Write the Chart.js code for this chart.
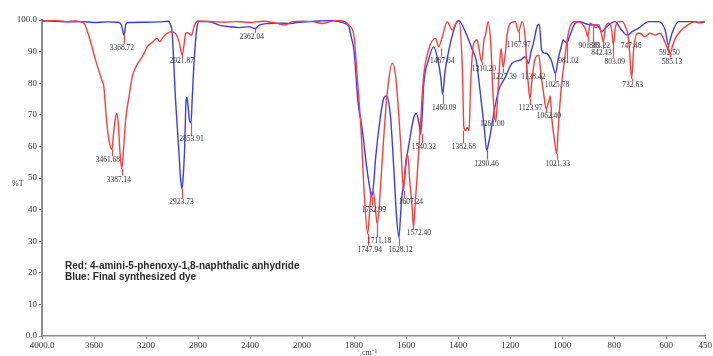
<!DOCTYPE html>
<html>
<head>
<meta charset="utf-8">
<script src="https://cdn.jsdelivr.net/npm/chart.js@4.4.1/dist/chart.umd.min.js"></script>
<style>
  html, body { margin: 0; padding: 0; background: #fff; }
  canvas { display: block; }
</style>
</head>
<body>
<canvas id="chart" width="713" height="356"></canvas>
<script>
// Wavenumbers (cm-1) and %T
const redWn = [4000, 3900, 3800, 3750, 3700, 3677, 3640, 3588, 3540, 3524, 3506, 3485, 3462, 3450, 3435, 3426, 3415, 3400, 3387, 3375, 3357, 3330, 3306, 3280, 3255, 3220, 3191, 3150, 3114, 3096, 3070, 3038, 3001, 2970, 2945, 2922, 2905, 2896, 2880, 2865, 2850, 2830, 2800, 2700, 2600, 2500, 2400, 2300, 2200, 2129, 2080, 2000, 1960, 1922, 1890, 1860, 1836, 1820, 1800, 1788, 1774, 1761, 1748, 1740, 1736, 1727, 1720, 1711, 1700, 1692, 1673, 1653, 1640, 1621, 1610, 1603, 1595, 1585, 1576, 1572, 1565, 1558, 1544, 1533, 1514, 1487, 1475, 1460, 1442, 1423, 1404, 1397, 1384, 1378, 1372, 1365, 1358, 1352, 1340, 1327, 1320, 1310, 1300, 1295, 1285, 1275, 1265, 1256, 1245, 1235, 1227, 1218, 1212, 1200, 1180, 1168, 1154, 1141, 1138, 1132, 1124, 1117, 1104, 1090, 1081, 1070, 1062, 1052, 1046, 1040, 1030, 1021, 1015, 1002, 990, 983, 970, 951, 932, 919, 910, 901, 893, 883, 870, 860, 850, 842, 833, 820, 810, 803, 796, 783, 768, 755, 747, 740, 733, 725, 710, 701, 682, 663, 643, 624, 605, 595, 585, 575, 565, 545, 526, 505, 488, 475, 464, 450];
const redT = [99.6, 99.8, 99.5, 99.7, 99.4, 99.0, 95, 87.3, 81, 78.8, 69.3, 62, 59, 64, 69, 70.4, 68, 58, 53, 58, 68.3, 76, 82, 85, 86.8, 89, 91.5, 93, 94.2, 93.1, 94.5, 95.8, 96.3, 95.5, 93, 88.9, 93, 95.8, 96, 95.5, 95.2, 98, 99.7, 99.5, 99.3, 99.5, 99.2, 99.6, 99.0, 98.4, 99.4, 99.6, 99.5, 98.9, 99.6, 99.8, 99.5, 98.4, 94.7, 82, 66.1, 45, 32.3, 40, 43.9, 46, 42, 35.5, 45, 55.6, 76.7, 86.3, 82, 60.9, 46, 54, 57.7, 48, 39.7, 34.4, 42, 50.3, 68.3, 82, 90.5, 94.2, 91.5, 95, 99.5, 96.8, 99.5, 99.6, 85.2, 66, 65, 66, 65, 79.9, 92.6, 93.7, 91, 86.8, 94, 95.2, 99.5, 93.1, 75.1, 67.7, 80, 91, 85, 90, 95.2, 98.9, 99.5, 96.3, 99.5, 93.1, 88, 81.5, 75, 80.4, 87.8, 88.9, 82.5, 76, 72, 74.1, 76, 69, 62, 57.7, 66, 79.9, 88, 92.6, 97.9, 99.5, 99.3, 98.4, 97, 94.7, 99, 98.5, 97.5, 98.5, 96, 93.1, 98, 99, 97, 92.1, 97.4, 99.5, 99.5, 97.4, 95.2, 88.9, 81.5, 91, 95.8, 95.8, 94.7, 95.8, 95.2, 95.8, 93, 91, 89.4, 92, 94.2, 96.5, 97.9, 99, 99.5, 99.3, 99.4, 99.6];

const blueWn = [4000, 3900, 3800, 3700, 3600, 3500, 3420, 3390, 3369, 3355, 3330, 3200, 3100, 3030, 3012, 2999, 2973, 2948, 2935, 2924, 2915, 2904, 2892, 2885, 2875, 2865, 2854, 2845, 2833, 2820, 2807, 2794, 2717, 2640, 2564, 2480, 2410, 2362, 2330, 2257, 2180, 2103, 2040, 1973, 1930, 1896, 1858, 1834, 1820, 1812, 1800, 1785, 1770, 1750, 1740, 1733, 1725, 1718, 1699, 1685, 1675, 1660, 1647, 1637, 1628, 1620, 1615, 1607, 1600, 1589, 1570, 1561, 1550, 1544, 1538, 1533, 1514, 1494, 1478, 1467, 1460, 1450, 1430, 1410, 1399, 1385, 1370, 1345, 1330, 1319, 1300, 1290, 1283, 1276, 1261, 1244, 1218, 1193, 1161, 1142, 1130, 1120, 1111, 1094, 1088, 1079, 1068, 1059, 1040, 1026, 1015, 1002, 996, 983, 970, 951, 932, 913, 880, 866, 847, 834, 815, 796, 777, 751, 731, 706, 668, 630, 604, 592, 578, 553, 495, 469, 450];
const blueT = [99.7, 99.6, 99.4, 99.5, 99.2, 99.4, 99.3, 98.5, 95.2, 98.7, 99.2, 99.3, 99.4, 99.6, 98.5, 95.8, 74.6, 58.7, 50, 46.5, 50, 58.7, 74.6, 75.5, 72, 68, 67.5, 75, 85.2, 93, 97.9, 99.5, 99.5, 98.4, 97.9, 97.6, 97.9, 97.3, 98.4, 98.9, 99.0, 98.9, 99.2, 99.5, 99.7, 99.8, 99.5, 98.9, 97.9, 95, 90, 74, 66.1, 52.4, 47, 44, 48, 55.6, 69.3, 75.5, 76, 69.3, 52.4, 38, 31.2, 40, 45, 49, 55, 60.9, 69.3, 70.4, 67, 64, 70, 78.8, 87.3, 91.5, 87.3, 82, 76.5, 84, 92.6, 98.5, 99.8, 98.5, 95.8, 90.5, 87, 79.9, 66.1, 58.7, 61, 64, 71.4, 77.8, 82, 86.3, 87.3, 88.4, 86.3, 89.9, 92.6, 98.4, 98.6, 90.5, 89.5, 89.4, 86.8, 83.1, 87.8, 92.1, 93.7, 92.6, 95.2, 98.9, 99.5, 98.9, 98.4, 98.4, 96.3, 97.4, 98.9, 99.5, 97.4, 95.2, 96.3, 97.4, 99.5, 99.5, 96.8, 92.1, 95.8, 99.5, 99.5, 99.1, 99.4];

// Axis ticks
const xTickWn = [4000, 3600, 3200, 2800, 2400, 2000, 1800, 1600, 1400, 1200, 1000, 800, 600, 450];
const xTickLabels = ['4000.0', '3600', '3200', '2800', '2400', '2000', '1800', '1600', '1400', '1200', '1000', '800', '600', '450'];
const yTickValues = [0, 10, 20, 30, 40, 50, 60, 70, 80, 90, 100];
const yTickLabels = ['0.0', '10', '20', '30', '40', '50', '60', '70', '80', '90', '100.0'];

// Peak annotations: label text, peak position, where the label sits
const peakLabels = ['3368.72', '3461.68', '3387.14', '2921.87', '2853.91', '2923.73', '2362.04', '1747.94', '1711.18', '1732.99', '1628.12', '1607.24', '1572.40', '1540.32', '1467.64', '1460.09', '1382.68', '1290.46', '1261.00', '1310.20', '1227.39', '1138.42', '1167.97', '1123.97', '1062.40', '1025.78', '1021.33', '981.02', '901.38', '883.22', '842.43', '803.09', '747.46', '732.63', '592.50', '585.13'];
const peakWn = [3368.72, 3461.68, 3387.14, 2921.87, 2853.91, 2923.73, 2362.04, 1747.94, 1711.18, 1732.99, 1628.12, 1607.24, 1572.40, 1540.32, 1467.64, 1460.09, 1382.68, 1290.46, 1261.00, 1310.20, 1227.39, 1138.42, 1167.97, 1123.97, 1062.40, 1025.78, 1021.33, 981.02, 901.38, 883.22, 842.43, 803.09, 747.46, 732.63, 592.50, 585.13];
const peakT = [95.2, 59, 53, 88.9, 67.5, 46.5, 97.3, 32.3, 35.5, 44, 31.2, 46, 34.4, 64, 91, 76.5, 65, 58.7, 71.4, 86.8, 84.7, 88, 96.3, 75, 72, 83.1, 57.7, 92.6, 94.7, 98.5, 93.1, 92.1, 95, 81.5, 92.1, 89.4];
const labelWn = [3386, 3493, 3409, 2925, 2850, 2927, 2387, 1740, 1704, 1724, 1621, 1582, 1551, 1532, 1461, 1454, 1378, 1291, 1269, 1301, 1222, 1111, 1167, 1122, 1051, 1020, 1017, 976, 898, 856, 849, 798, 735, 729, 588, 578];
const labelT = [91.1, 55.6, 49.5, 87, 62.2, 42.3, 94.6, 27.3, 29.9, 40, 27.3, 42.3, 32.5, 59.8, 87.1, 72, 59.8, 54.5, 67.2, 84.4, 82, 82, 92.1, 72, 69.5, 79.4, 54.5, 87, 91.8, 91.8, 89.6, 86.8, 91.8, 79.4, 89.4, 86.8];

// Scale is compressed by half above 2000 cm-1
function toAxis(w) {
  return w > 2000 ? 2000 + (w - 2000) / 2 : w;
}

function toPoints(wn, t) {
  return wn.map((w, i) => ({ x: toAxis(w), y: t[i] }));
}

const tickFont = { family: "'Liberation Serif', serif", size: 9 };

const annotations = {
  id: 'annotations',
  afterDatasetsDraw(chart) {
    const { ctx, scales: { x, y } } = chart;
    ctx.save();
    // Peak ticks and labels
    ctx.font = "7.5px 'Liberation Serif', serif";
    ctx.textAlign = 'center';
    ctx.textBaseline = 'middle';
    peakLabels.forEach((text, i) => {
      const px = x.getPixelForValue(toAxis(peakWn[i]));
      const py = y.getPixelForValue(peakT[i]);
      const lx = x.getPixelForValue(toAxis(labelWn[i]));
      const ly = y.getPixelForValue(labelT[i]);
      ctx.strokeStyle = '#ff4040';
      ctx.lineWidth = 1.2;
      ctx.beginPath();
      ctx.moveTo(Math.round(px) + 0.5, py);
      ctx.lineTo(Math.round(px) + 0.5, ly - 4);
      ctx.stroke();
      ctx.fillStyle = '#333';
      ctx.fillText(text, lx, ly);
    });

    // Legend text
    ctx.font = "bold 10px 'Liberation Sans', Arial, sans-serif";
    ctx.textAlign = 'left';
    ctx.fillStyle = '#2a2a2a';
    ctx.fillText('Red: 4-amini-5-phenoxy-1,8-naphthalic anhydride', 65, 266);
    ctx.fillText('Blue: Final synthesized dye', 65, 277);

    // Axis titles
    ctx.font = "8px 'Liberation Serif', serif";
    ctx.fillStyle = '#333';
    ctx.fillText('%T', 12, 184);
    ctx.fillText('cm\u207B\u00B9', 362, 353);
    ctx.restore();
  }
};

const chart = new Chart(document.getElementById('chart'), {
  type: 'line',
  data: {
    datasets: [
      {
        label: 'Red',
        data: toPoints(redWn, redT),
        borderColor: '#ff3b3b',
        borderWidth: 1.4,
        pointRadius: 0,
        cubicInterpolationMode: 'monotone'
      },
      {
        label: 'Blue',
        data: toPoints(blueWn, blueT),
        borderColor: '#3a3aff',
        borderWidth: 1.4,
        pointRadius: 0,
        cubicInterpolationMode: 'monotone'
      }
    ]
  },
  options: {
    responsive: false,
    animation: false,
    devicePixelRatio: 1,
    layout: { padding: { top: 20, right: 6, left: 0, bottom: 0 } },
    plugins: {
      legend: { display: false },
      tooltip: { enabled: false }
    },
    scales: {
      x: {
        type: 'linear',
        reverse: true,
        min: 450,
        max: 3000,
        afterBuildTicks: (scale) => {
          scale.ticks = xTickWn.map(w => ({ value: toAxis(w) }));
        },
        afterFit: (scale) => { scale.height = 20; },
        ticks: {
          autoSkip: false,
          maxRotation: 0,
          padding: 1,
          font: tickFont,
          color: '#333',
          callback: (value, index) => xTickLabels[index]
        },
        grid: { drawOnChartArea: false, tickLength: 3, color: '#888' },
        border: { color: '#8c8c8c', width: 1.5 }
      },
      y: {
        min: 0,
        max: 100,
        afterBuildTicks: (scale) => {
          scale.ticks = yTickValues.map(v => ({ value: v }));
        },
        afterFit: (scale) => { scale.width = 42; },
        ticks: {
          padding: 2,
          font: tickFont,
          color: '#333',
          callback: (value, index) => yTickLabels[index]
        },
        grid: { drawOnChartArea: false, tickLength: 3, color: '#888' },
        border: { color: '#8c8c8c', width: 2 }
      }
    }
  },
  plugins: [annotations]
});
</script>
</body>
</html>
